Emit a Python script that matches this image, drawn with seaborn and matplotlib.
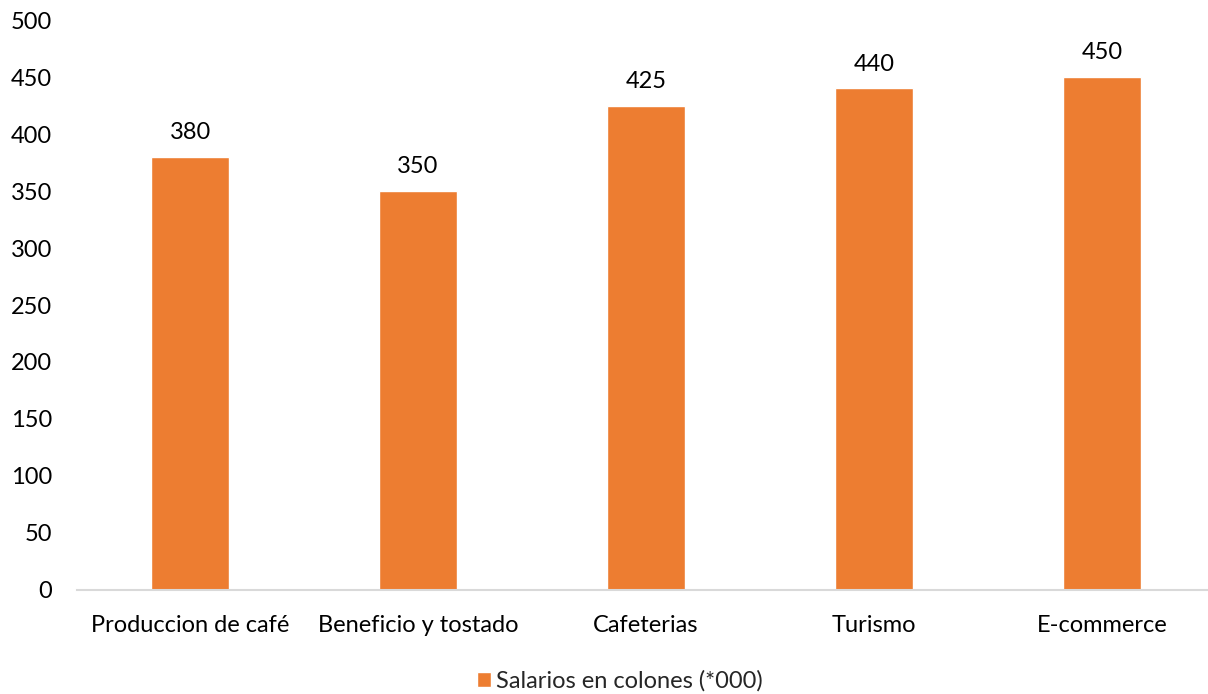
import matplotlib
matplotlib.use("Agg")
import matplotlib.pyplot as plt
import pandas as pd
import seaborn as sns

# data
categories = ["Produccion de café", "Beneficio y tostado", "Cafeterias", "Turismo", "E-commerce"]
salarios = [380, 350, 425, 440, 450]
serie = "Salarios en colones (*000)"
orange = "#ED7D31"

df = pd.DataFrame({"sector": categories, "salario": salarios})

sns.set_style("white")
plt.rcParams["font.family"] = ["Lato", "DejaVu Sans"]

fig = plt.figure(figsize=(12.08, 6.94), dpi=100)
ax = fig.add_axes([77 / 1208, 0.150, 1 - 77 / 1208, 0.821])

sns.barplot(data=df, x="sector", y="salario", color=orange, width=0.34,
            saturation=1, ax=ax, label=serie)

fs = 17
for i, v in enumerate(salarios):
    ax.text(i, v + 12, str(v), ha="center", va="bottom", fontsize=fs, color="#000000")

ax.set_ylim(0, 500)
ax.set_yticks(range(0, 501, 50))
ax.set_xlim(-0.496, 4.465)
ax.set_xlabel("")
ax.set_ylabel("")
ax.tick_params(axis="both", labelsize=fs, length=0, colors="#000000")
ax.tick_params(axis="x", pad=18)
ax.tick_params(axis="y", pad=18)
for s in ["top", "right", "left"]:
    ax.spines[s].set_visible(False)
ax.spines["bottom"].set_color("#D9D9D9")
ax.spines["bottom"].set_linewidth(1.5)

handles, labels = ax.get_legend_handles_labels()
ax.legend(handles, labels, loc="center", bbox_to_anchor=(0.48, -0.16), frameon=False,
          fontsize=fs, handlelength=0.6, handleheight=0.6, handletextpad=0.2)

fig.savefig("out.png", dpi=100)
